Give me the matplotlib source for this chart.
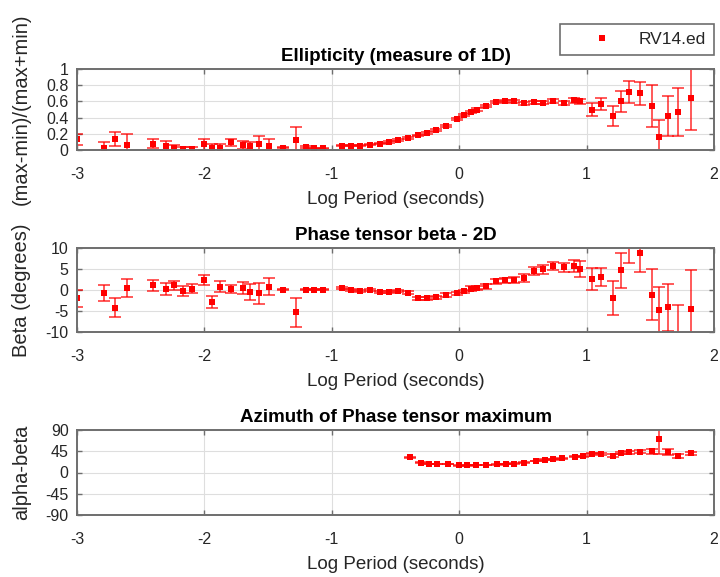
import matplotlib
matplotlib.use("Agg")
import matplotlib.pyplot as plt
from matplotlib.lines import Line2D

plt.rcParams['font.family'] = ['Liberation Sans', 'DejaVu Sans']
plt.rcParams['axes.unicode_minus'] = False

# Log10 period for the ellipticity and beta curves
log_period = [-3.0, -2.79, -2.70, -2.61, -2.40, -2.30, -2.24, -2.17, -2.10, -2.0,
              -1.94, -1.88, -1.79, -1.70, -1.64, -1.57, -1.49, -1.38, -1.28, -1.20,
              -1.14, -1.07,
              -0.92, -0.85, -0.78, -0.70, -0.62, -0.55, -0.48, -0.40, -0.32, -0.25,
              -0.18, -0.10, -0.02, 0.04, 0.09, 0.14, 0.21, 0.29, 0.36, 0.43,
              0.51, 0.59, 0.66, 0.74, 0.82, 0.90, 0.95,
              1.04, 1.11, 1.21, 1.27, 1.33, 1.42, 1.51, 1.57, 1.64, 1.72, 1.82]

ellipticity = [0.13, 0.03, 0.135, 0.06, 0.08, 0.05, 0.02, 0.01, 0.01, 0.07,
               0.02, 0.025, 0.095, 0.06, 0.05, 0.074, 0.05, 0.03, 0.12, 0.04,
               0.02, 0.02,
               0.05, 0.05, 0.055, 0.065, 0.08, 0.10, 0.125, 0.15, 0.18, 0.21,
               0.25, 0.30, 0.38, 0.43, 0.47, 0.50, 0.545, 0.59, 0.605, 0.60,
               0.575, 0.59, 0.585, 0.61, 0.585, 0.615, 0.60,
               0.50, 0.57, 0.42, 0.60, 0.716, 0.70, 0.54, 0.165, 0.42, 0.47, 0.64]

ellipticity_err = [0.07, 0.07, 0.09, 0.14, 0.06, 0.06, 0.04, 0.03, 0.03, 0.07,
                   0.05, 0.05, 0.04, 0.05, 0.05, 0.10, 0.08, 0.01, 0.17, 0.01,
                   0.01, 0.01,
                   0.006, 0.006, 0.006, 0.007, 0.008, 0.008, 0.009, 0.01, 0.01, 0.01,
                   0.012, 0.012, 0.015, 0.015, 0.015, 0.015, 0.015, 0.015, 0.015, 0.015,
                   0.02, 0.02, 0.02, 0.025, 0.025, 0.03, 0.03,
                   0.08, 0.07, 0.12, 0.13, 0.13, 0.14, 0.26, 0.20, 0.25, 0.30, 0.39]

beta = [-2.0, -0.7, -4.2, 0.5, 1.1, 0.3, 1.1, -0.3, 0.35, 2.3,
        -2.9, 0.75, 0.3, 0.5, -0.4, -0.8, 0.75, 0.1, -5.3, 0.1,
        0.1, 0.1,
        0.5, 0.0, -0.2, 0.0, -0.5, -0.5, -0.2, -0.6, -2.0, -2.0,
        -1.7, -1.2, -0.8, -0.3, 0.35, 0.5, 0.9, 2.1, 2.3, 2.3,
        2.9, 4.5, 4.9, 5.7, 5.4, 5.7, 5.0,
        2.7, 3.1, -1.9, 4.7, 11.0, 8.7, -1.1, -4.8, -4.1, -12.0, -4.6]

beta_err = [2.0, 1.8, 2.3, 2.2, 1.4, 1.4, 1.0, 1.2, 1.1, 1.2,
            1.4, 1.3, 1.0, 1.4, 1.9, 2.5, 2.0, 0.2, 3.4, 0.2,
            0.2, 0.2,
            0.2, 0.2, 0.2, 0.2, 0.25, 0.25, 0.3, 0.3, 0.3, 0.3,
            0.35, 0.4, 0.4, 0.4, 0.5, 0.5, 0.6, 0.6, 0.6, 0.7,
            0.9, 0.9, 1.0, 1.0, 1.0, 1.5, 1.8,
            2.6, 2.2, 4.0, 4.2, 4.5, 4.4, 6.1, 5.6, 5.6, 8.5, 9.3]

# Azimuth of the phase tensor maximum (alpha - beta)
log_period_az = [-0.39, -0.30, -0.24, -0.175, -0.09, 0.0, 0.06, 0.13, 0.21, 0.30,
                 0.37, 0.43, 0.51, 0.605, 0.67, 0.735, 0.81, 0.906, 0.97, 1.04,
                 1.11, 1.21, 1.27, 1.33, 1.42, 1.51, 1.57, 1.64, 1.72, 1.82]
azimuth = [32, 21, 18, 18.5, 18.5, 15, 15, 16, 16, 17,
           18, 19, 21, 24.5, 27, 28, 30, 33, 34, 40,
           39, 36, 41, 42.5, 44, 45, 70, 44, 35, 40.5]
azimuth_err = [0.5, 0.5, 0.5, 0.5, 0.5, 0.5, 0.5, 0.5, 0.5, 0.5,
               0.5, 0.5, 0.6, 0.6, 0.7, 0.8, 0.9, 1.0, 1.0, 1.5,
               1.5, 3.0, 2.0, 2.5, 3.0, 5.0, 30.0, 6.0, 4.0, 3.0]

x_ticks = [-3, -2, -1, 0, 1, 2]
red = '#ff0000'
edge_grey = '#6e6e6e'
text_col = '#262626'

fig = plt.figure(figsize=(7.2, 5.77), dpi=100)

W, H = 720.0, 577.0
left, right = 77 / W, 714 / W
panels = [(69, 150), (248, 332), (430, 515)]
axes = []
for top, bot in panels:
    ax = fig.add_axes([left, 1 - bot / H, right - left, (bot - top) / H])
    axes.append(ax)


def style(ax, yticks, ylim, ylabel, title):
    ax.set_xlim(-3, 2)
    ax.set_ylim(*ylim)
    ax.set_xticks(x_ticks)
    ax.set_xticklabels([str(t) for t in x_ticks])
    ax.set_yticks(yticks)
    ax.grid(True, color='#dedede', lw=0.8)
    ax.set_axisbelow(True)
    for s in ax.spines.values():
        s.set_color(edge_grey)
        s.set_linewidth(1.4)
    ax.tick_params(axis='both', direction='in', length=3.5, width=1.0,
                   color=edge_grey, labelcolor=text_col, labelsize=11.5,
                   top=True, right=True)
    ax.tick_params(axis='x', pad=12)
    ax.tick_params(axis='y', pad=6)
    ax.set_xlabel('Log Period (seconds)', fontsize=13.5, color=text_col, labelpad=7)
    ax.set_ylabel(ylabel, fontsize=14.5, color=text_col)
    ax.yaxis.set_label_coords(-0.072, 0.5)
    ax.set_title(title, fontsize=13.5, fontweight='bold', color='black', pad=6)


def draw(ax, x, y, e):
    ax.errorbar(x, y, yerr=e, fmt='none', ecolor=red, alpha=0.7,
                elinewidth=1.3, capsize=4, capthick=1.3)
    ax.plot(x, y, ls='none', marker='s', color=red, ms=4.2, mew=0)


draw(axes[0], log_period, ellipticity, ellipticity_err)
style(axes[0], [0, 0.2, 0.4, 0.6, 0.8, 1], (0, 1),
      '(max-min)/(max+min)', 'Ellipticity (measure of 1D)')
axes[0].set_yticklabels(['0', '0.2', '0.4', '0.6', '0.8', '1'])

draw(axes[1], log_period, beta, beta_err)
style(axes[1], [-10, -5, 0, 5, 10], (-10, 10),
      'Beta (degrees)', 'Phase tensor beta - 2D')

draw(axes[2], log_period_az, azimuth, azimuth_err)
style(axes[2], [-90, -45, 0, 45, 90], (-90, 90),
      'alpha-beta', 'Azimuth of Phase tensor maximum')

handle = Line2D([], [], ls='none', marker='s', color=red, ms=4.2, mew=0)
leg = fig.legend([handle], ['RV14.ed'], loc='upper right',
                 bbox_to_anchor=(714 / W, 1 - 24 / H), fontsize=12.5,
                 handlelength=3.9, handletextpad=0.2, borderpad=0.45,
                 fancybox=False, framealpha=1, borderaxespad=0)
leg.get_frame().set_edgecolor(edge_grey)
leg.get_frame().set_linewidth(1.2)
for t in leg.get_texts():
    t.set_color(text_col)

fig.savefig('out.png', dpi=100)
